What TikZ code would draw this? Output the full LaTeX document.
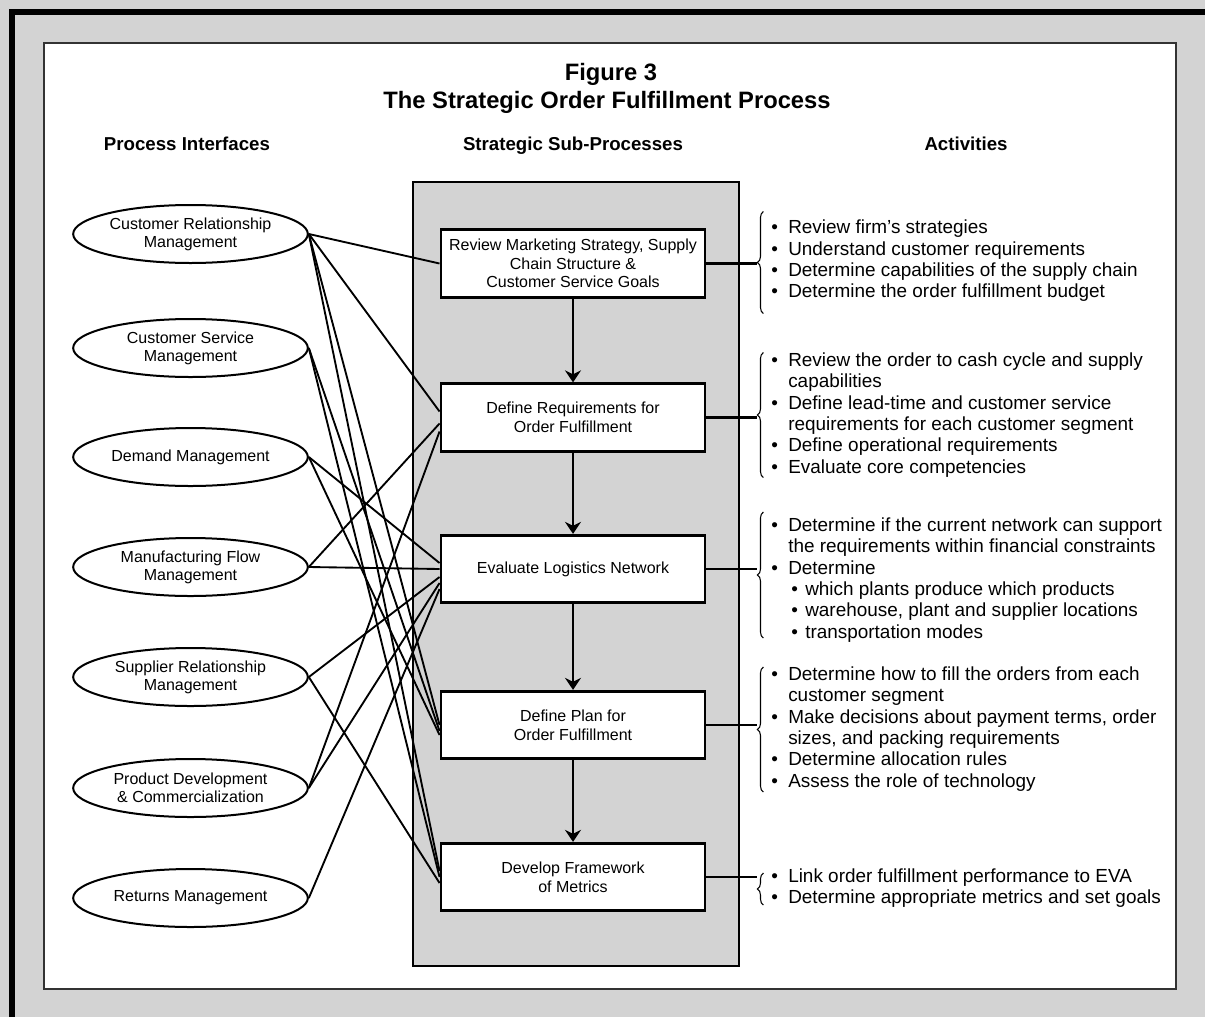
\documentclass[tikz,border=0pt]{standalone}
\usepackage{fontspec}
\setmainfont{Liberation Sans}
\usetikzlibrary{arrows.meta,shapes.geometric,decorations.pathreplacing,calc}
\definecolor{bggray}{RGB}{211,211,211}
\newcommand{\bul}{\makebox[12.75pt][l]{\textbullet}}
\newcommand{\ind}{\hspace*{12.75pt}}
\newcommand{\sbul}{\hspace*{15pt}\makebox[10.5pt][l]{\textbullet}}
\begin{document}
\begin{tikzpicture}[x=0.75pt,y=-0.75pt,
  ell/.style={ellipse, draw, line width=1.5pt, fill=white, inner sep=0pt,
    minimum width=176pt, minimum height=43.5pt, align=center,
    font=\fontsize{12}{13.5}\selectfont},
  proc/.style={rectangle, draw, line width=2.2pt, fill=white, inner sep=0pt,
    minimum width=198pt, minimum height=50.5pt, align=center,
    font=\fontsize{12}{14}\selectfont},
  link/.style={line width=1.4pt},
  flow/.style={line width=2pt, -{Stealth[length=9pt,width=12pt,inset=3pt]}},
  act/.style={anchor=west, inner sep=0pt, align=left,
    font=\fontsize{14.2}{16}\selectfont},
  hdr/.style={font=\bfseries\fontsize{14}{16}\selectfont, inner sep=0pt, anchor=base},
  ttl/.style={font=\bfseries\fontsize{17.8}{20}\selectfont, inner sep=0pt},
  actbrace/.style={decorate, decoration={brace, amplitude=4.5pt}, line width=0.8pt},
  tick/.style={line width=2pt}]
\useasboundingbox (0,0) rectangle (1205,1017);
% frame
\fill[bggray] (0,0) rectangle (1205,1017);
\draw[line width=4.5pt] (12,1017) -- (12,12) -- (1205,12);
\draw[fill=white, line width=1.6pt, draw=black!80] (44,43) rectangle (1176,989);
% titles
\node[ttl] (fig) at (611,74) {Figure 3};
\node[ttl] (title) at (607,102) {The Strategic Order Fulfillment Process};
\node[hdr] (h1) at (187,150) {Process Interfaces};
\node[hdr] (h2) at (573,150) {Strategic Sub-Processes};
\node[hdr] (h3) at (966,150) {Activities};
% gray column
\draw[fill=bggray, line width=1.2pt] (413,182) rectangle (739,966);
% process boxes
\node[proc] (b1) at (573,263.5) {Review Marketing Strategy, Supply\\Chain Structure \&\\Customer Service Goals};
\node[proc] (b2) at (573,417.5) {Define Requirements for\\Order Fulfillment};
\node[proc] (b3) at (573,569) {Evaluate Logistics Network};
\node[proc] (b4) at (573,725) {Define Plan for\\Order Fulfillment};
\node[proc] (b5) at (573,877) {Develop Framework\\of Metrics};
\draw[flow] (b1) -- (b2);
\draw[flow] (b2) -- (b3);
\draw[flow] (b3) -- (b4);
\draw[flow] (b4) -- (b5);
% ellipses
\node[ell] (e1) at (190.5,234) {Customer Relationship\\Management};
\node[ell] (e2) at (190.5,348) {Customer Service\\Management};
\node[ell] (e3) at (190.5,457) {Demand Management};
\node[ell] (e4) at (190.5,567) {Manufacturing Flow\\Management};
\node[ell] (e5) at (190.5,677) {Supplier Relationship\\Management};
\node[ell] (e6) at (190.5,788) {Product Development\\\& Commercialization};
\node[ell] (e7) at (190.5,898) {Returns Management};
% interface links
\draw[link] (e1.east) -- (b1.west);
\draw[link] (e1.east) -- ($(b2.west)+(0,-6)$);
\draw[link] (e1.east) -- ($(b4.west)+(0,0)$);
\draw[link] (e1.east) -- ($(b5.west)+(0,-6)$);
\draw[link] (e2.east) -- ($(b4.west)+(0,6)$);
\draw[link] (e2.east) -- ($(b5.west)+(0,0)$);
\draw[link] (e3.east) -- ($(b3.west)+(0,-6)$);
\draw[link] (e3.east) -- ($(b4.west)+(0,10)$);
\draw[link] (e4.east) -- ($(b2.west)+(0,6)$);
\draw[link] (e4.east) -- ($(b3.west)+(0,0)$);
\draw[link] (e5.east) -- ($(b3.west)+(0,8)$);
\draw[link] (e5.east) -- ($(b5.west)+(0,6)$);
\draw[link] (e6.east) -- ($(b3.west)+(0,14)$);
\draw[link] (e6.east) -- ($(b2.west)+(0,14)$);
\draw[link] (e7.east) -- ($(b3.west)+(0,20)$);
% brace tips
\coordinate (t1) at ($(b1.east)+(51,0)$);
\coordinate (t2) at ($(b2.east)+(51,0)$);
\coordinate (t3) at ($(b3.east)+(51,0)$);
\coordinate (t4) at ($(b4.east)+(51,0)$);
\coordinate (t5) at ($(b5.east)+(51,0)$);
\draw[tick] (b1.east) -- (t1);
\draw[tick] (b2.east) -- (t2);
\draw[tick] (b3.east) -- (t3);
\draw[tick] (b4.east) -- (t4);
\draw[tick] (b5.east) -- (t5);
\draw[actbrace] ($(t1)+(6,50)$) -- ($(t1)+(6,-52)$);
\draw[actbrace] ($(t2)+(6,60)$) -- ($(t2)+(6,-65)$);
\draw[actbrace] ($(t3)+(6,69)$) -- ($(t3)+(6,-57)$);
\draw[actbrace] ($(t4)+(6,67)$) -- ($(t4)+(6,-58)$);
\draw[actbrace] ($(t5)+(6,28)$) -- ($(t5)+(6,-4)$);
% activities
\node[act] (a1) at (771,261) {\bul Review firm's strategies\\
\bul Understand customer requirements\\
\bul Determine capabilities of the supply chain\\
\bul Determine the order fulfillment budget};
\node[act] (a2) at (771,415) {\bul Review the order to cash cycle and supply\\
\ind capabilities\\
\bul Define lead-time and customer service\\
\ind requirements for each customer segment\\
\bul Define operational requirements\\
\bul Evaluate core competencies};
\node[act] (a3) at (771,580) {\bul Determine if the current network can support\\
\ind the requirements within financial constraints\\
\bul Determine\\
\sbul which plants produce which products\\
\sbul warehouse, plant and supplier locations\\
\sbul transportation modes};
\node[act] (a4) at (771,729) {\bul Determine how to fill the orders from each\\
\ind customer segment\\
\bul Make decisions about payment terms, order\\
\ind sizes, and packing requirements\\
\bul Determine allocation rules\\
\bul Assess the role of technology};
\node[act] (a5) at (771,888) {\bul Link order fulfillment performance to EVA\\
\bul Determine appropriate metrics and set goals};
\end{tikzpicture}
\end{document}
